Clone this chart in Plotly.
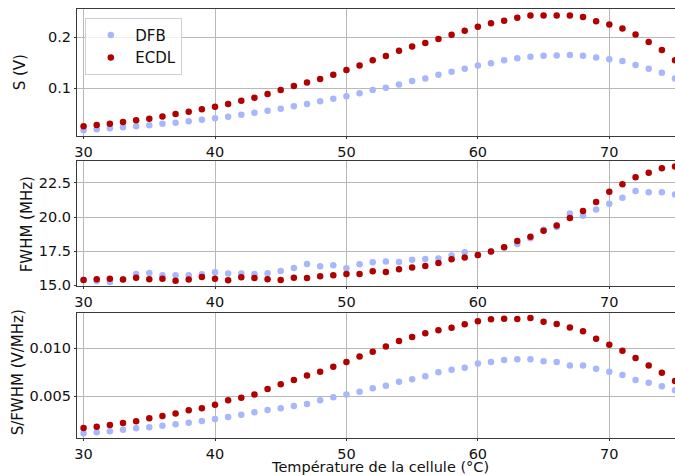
import plotly.graph_objects as go
from plotly.subplots import make_subplots

temperature = list(range(30, 76))

s_dfb = [0.0165, 0.0185, 0.0205, 0.0224, 0.0245, 0.0264, 0.0296, 0.0316, 0.0343, 0.0375,
         0.0402, 0.0434, 0.0474, 0.0513, 0.0553, 0.0592, 0.0639, 0.0684, 0.0737, 0.079,
         0.0836, 0.0895, 0.096, 0.1006, 0.1072, 0.1138, 0.119, 0.126, 0.132, 0.138,
         0.1447, 0.149, 0.1546, 0.159, 0.1617, 0.1637, 0.164, 0.165, 0.1637, 0.1605,
         0.1566, 0.1532, 0.1454, 0.138, 0.130, 0.119]
s_ecdl = [0.0245, 0.027, 0.0296, 0.033, 0.0363, 0.0395, 0.044, 0.0487, 0.0533, 0.058,
          0.063, 0.0684, 0.075, 0.081, 0.088, 0.096, 0.104, 0.111, 0.118, 0.126,
          0.1355, 0.1447, 0.1546, 0.163, 0.1736, 0.182, 0.189, 0.197, 0.205, 0.213,
          0.221, 0.228, 0.2328, 0.2387, 0.2434, 0.243, 0.243, 0.243, 0.240, 0.232,
          0.2256, 0.2177, 0.2059, 0.1907, 0.175, 0.1546]

fwhm_dfb = [15.40, 15.32, 15.24, 15.45, 15.83, 15.90, 15.73, 15.73, 15.73, 15.81,
            15.95, 15.86, 15.86, 15.83, 15.88, 16.05, 16.27, 16.56, 16.39, 16.47,
            16.25, 16.54, 16.69, 16.74, 16.71, 16.88, 16.93, 16.96, 17.18, 17.42,
            17.20, 17.47, 17.79, 18.03, 18.45, 19.08, 19.28, 20.26, 20.09, 20.55,
            20.97, 21.41, 21.92, 21.82, 21.82, 21.65]
fwhm_ecdl = [15.39, 15.44, 15.49, 15.42, 15.56, 15.44, 15.49, 15.34, 15.42, 15.61,
             15.49, 15.37, 15.59, 15.54, 15.44, 15.39, 15.56, 15.54, 15.66, 15.73,
             15.83, 15.83, 16.03, 15.98, 16.17, 16.30, 16.42, 16.64, 16.91, 17.03,
             17.22, 17.47, 17.79, 18.25, 18.55, 18.99, 19.38, 19.94, 20.45, 21.11,
             21.85, 22.41, 22.92, 23.24, 23.58, 23.70]

ratio_dfb = [0.00111, 0.00122, 0.00132, 0.00149, 0.00163, 0.00174, 0.00191, 0.00205, 0.00222, 0.00240,
             0.00260, 0.00281, 0.00306, 0.00330, 0.00354, 0.00372, 0.00396, 0.00417, 0.00455, 0.00486,
             0.00517, 0.00545, 0.00580, 0.00608, 0.00649, 0.00674, 0.00705, 0.00747, 0.00774, 0.00795,
             0.00840, 0.00854, 0.00875, 0.00882, 0.00882, 0.00861, 0.00854, 0.00819, 0.00819, 0.00785,
             0.00753, 0.00719, 0.00667, 0.00639, 0.00601, 0.00559]
ratio_ecdl = [0.00167, 0.00181, 0.00198, 0.00219, 0.00236, 0.00267, 0.00292, 0.00319, 0.00351, 0.00372,
              0.00410, 0.00455, 0.00483, 0.00517, 0.00573, 0.00622, 0.00667, 0.00715, 0.00753, 0.00806,
              0.00854, 0.00913, 0.00962, 0.01017, 0.01073, 0.01115, 0.01153, 0.01184, 0.01212, 0.01247,
              0.01278, 0.01299, 0.01306, 0.01302, 0.01313, 0.01274, 0.01250, 0.01215, 0.01174, 0.01097,
              0.01035, 0.00972, 0.00896, 0.00819, 0.00743, 0.00656]

series_names = ["DFB", "ECDL"]
colors = ["#a8b7fb", "#b00000"]

FONT = "DejaVu Sans"

fig = make_subplots(rows=3, cols=1)

panels = [(s_dfb, s_ecdl), (fwhm_dfb, fwhm_ecdl), (ratio_dfb, ratio_ecdl)]
for r, (a, b) in enumerate(panels, start=1):
    for name, col, vals in zip(series_names, colors, (a, b)):
        fig.add_trace(go.Scatter(x=temperature, y=vals, mode="markers", name=name,
                                 marker=dict(color=col, size=6.5, line=dict(width=0)),
                                 showlegend=(r == 1)), row=r, col=1)

W, H = 675, 475
L, R, T, B = 76.7, 0, 9, 37
ph = H - T - B

def dom(top_px, bot_px):
    return [1 - (bot_px - T) / ph, 1 - (top_px - T) / ph]

domains = [dom(9, 136), dom(161, 286), dom(313, 438)]
yranges = [[0.0053, 0.256], [14.95, 24.11], [0.000625, 0.01365]]
yticks = [([0.1, 0.2], ["0.1", "0.2"]),
          ([15, 17.5, 20, 22.5], ["15.0", "17.5", "20.0", "22.5"]),
          ([0.005, 0.010], ["0.005", "0.010"])]

axis_common = dict(showline=True, linecolor="#3a3a3a", linewidth=1.2,
                   showgrid=True, gridcolor="#b8b8b8", gridwidth=1,
                   ticks="outside", ticklen=2, tickcolor="#333", tickwidth=1,
                   tickfont=dict(family=FONT, size=14.5, color="#111"), zeroline=False)

for i in range(3):
    sfx = "" if i == 0 else str(i + 1)
    fig.layout["xaxis" + sfx].update(range=[29.5, 75.0], tickvals=[30, 40, 50, 60, 70],
                                     mirror=True, **axis_common)
    fig.layout["yaxis" + sfx].update(domain=domains[i], range=yranges[i],
                                     tickvals=yticks[i][0], ticktext=yticks[i][1],
                                     **axis_common)

ylabels = [("S (V)", 20, 72), ("FWHM (MHz)", 27, 224), ("S/FWHM (V/MHz)", 18, 372)]
annotations = []
for txt, xp, yp in ylabels:
    annotations.append(dict(text=txt, xref="paper", yref="paper",
                            x=(xp - L) / (W - L - R), y=1 - (yp - T) / ph,
                            textangle=-90, showarrow=False, xanchor="center", yanchor="middle",
                            font=dict(family=FONT, size=15, color="#111")))
annotations.append(dict(text="Température de la cellule (°C)", xref="paper", yref="paper",
                        x=(380 - L) / (W - L - R), y=1 - (467 - T) / ph,
                        showarrow=False, xanchor="center", yanchor="middle",
                        font=dict(family=FONT, size=14.5, color="#111")))

fig.update_layout(
    width=W, height=H,
    margin=dict(l=L, r=R, t=T, b=B, pad=0),
    paper_bgcolor="white", plot_bgcolor="white",
    annotations=annotations,
    legend=dict(x=(85 - L) / (W - L - R), y=1 - (17.7 - T) / ph, xanchor="left", yanchor="top",
                bgcolor="rgba(255,255,255,0.8)", bordercolor="#d0d0d0", borderwidth=1,
                font=dict(family=FONT, size=15, color="#111"), tracegroupgap=0,
                itemwidth=39),
    showlegend=True,
)

fig.write_html("out.html", config={"displayModeBar": False},
               post_script="document.body.style.margin='0';document.body.style.overflow='hidden';")
